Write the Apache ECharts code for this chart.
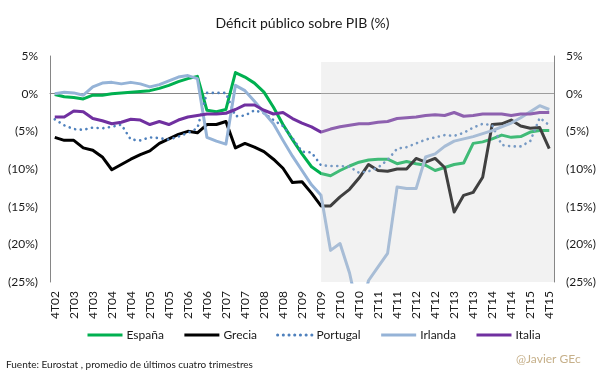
<!DOCTYPE html>
<html><head><meta charset="utf-8">
<script src="https://cdn.jsdelivr.net/npm/echarts@6/dist/echarts.min.js"></script>
<style>html,body{margin:0;padding:0;background:#fff}#c{width:605px;height:378px}</style>
</head><body><div id="c"></div>
<script>
const categories = ['4T02',
 '1T03','2T03','3T03','4T03','1T04','2T04','3T04','4T04',
 '1T05','2T05','3T05','4T05','1T06','2T06','3T06','4T06',
 '1T07','2T07','3T07','4T07','1T08','2T08','3T08','4T08',
 '1T09','2T09','3T09','4T09','1T10','2T10','3T10','4T10',
 '1T11','2T11','3T11','4T11','1T12','2T12','3T12','4T12',
 '1T13','2T13','3T13','4T13','1T14','2T14','3T14','4T14',
 '1T15','2T15','3T15','4T15'];

const espana = [-0.1,-0.4,-0.5,-0.7,-0.2,-0.2,0.0,0.1,0.2,0.3,0.4,0.7,1.1,1.6,2.0,2.3,-2.2,-2.4,-2.1,2.8,2.2,1.4,0.2,-1.8,-4.1,-6.1,-8.0,-9.7,-10.6,-10.9,-10.2,-9.6,-9.1,-8.8,-8.7,-8.7,-9.3,-9.0,-9.3,-9.5,-10.2,-9.8,-9.4,-9.2,-6.6,-6.4,-6.0,-5.5,-5.8,-5.7,-5.1,-4.9,-4.9];
const grecia = [-5.8,-6.2,-6.2,-7.2,-7.5,-8.4,-10.1,-9.4,-8.7,-8.1,-7.6,-6.6,-6.0,-5.4,-5.0,-5.2,-4.1,-4.1,-3.7,-7.2,-6.6,-7.1,-7.7,-8.7,-9.9,-11.8,-11.7,-13.2,-14.9,-14.9,-13.7,-12.7,-11.2,-9.4,-10.2,-10.3,-10.0,-10.0,-8.6,-9.1,-8.6,-9.8,-15.7,-13.5,-13.1,-11.1,-4.1,-4.0,-3.5,-4.3,-4.6,-4.5,-7.3];
const portugal = [-3.4,-4.2,-4.7,-4.8,-4.5,-4.6,-4.4,-4.1,-6.1,-6.2,-5.8,-5.9,-6.1,-5.7,-5.2,-4.6,0.1,0.1,0.1,-3.0,-2.9,-2.2,-2.6,-3.5,-4.3,-5.9,-7.7,-7.8,-9.5,-9.6,-9.6,-9.7,-10.5,-10.3,-9.8,-8.8,-7.3,-7.1,-6.6,-6.1,-5.8,-5.5,-5.6,-5.2,-4.5,-4.0,-4.2,-6.8,-7.0,-7.0,-6.3,-3.2,-4.2];
const irlanda = [0.0,0.2,0.1,-0.2,0.9,1.4,1.5,1.3,1.5,1.3,0.9,1.2,1.7,2.2,2.4,2.0,-5.8,-6.3,-6.7,1.1,0.4,-1.0,-2.5,-4.0,-6.2,-8.3,-10.2,-12.1,-13.5,-20.8,-19.9,-23.8,-29.5,-24.8,-23.0,-21.2,-12.4,-12.6,-12.6,-8.4,-8.0,-7.0,-6.3,-6.0,-5.7,-5.3,-4.9,-4.4,-3.9,-3.2,-2.4,-1.6,-2.1];
const italia = [-3.1,-3.1,-2.3,-2.4,-3.3,-3.6,-4.0,-3.8,-3.4,-3.5,-4.1,-3.7,-4.1,-3.5,-3.1,-2.9,-2.7,-2.7,-2.6,-2.1,-1.5,-1.5,-2.2,-2.7,-2.5,-3.3,-3.9,-4.4,-5.1,-4.7,-4.4,-4.2,-4.0,-4.0,-3.8,-3.7,-3.3,-3.2,-3.1,-2.9,-2.8,-2.9,-2.5,-3.0,-2.9,-2.7,-2.7,-2.7,-2.9,-2.7,-2.7,-2.5,-2.5];

const seriesNames = ['España','Grecia','Portugal','Irlanda','Italia'];
const shadeFrom = '4T09';
const shadeTop = 4.2;
const yMin = -25, yMax = 5, yStep = 5;

const FONT = 'Lato';
const fmt = v => v > 0 ? v + '%' : (v === 0 ? '0%' : '(' + Math.abs(v) + '%)');

const chart = echarts.init(document.getElementById('c'), null, {renderer: 'canvas'});

function lineSeries(name, data, color, extra) {
  return Object.assign({
    name, type: 'line', data, symbol: 'none', smooth: false,
    xAxisIndex: 0, yAxisIndex: 0,
    lineStyle: {color, width: 3, join: 'round'},
    itemStyle: {color},
    emphasis: {disabled: true}
  }, extra || {});
}

const shadeStart = categories.indexOf(shadeFrom) + 0.5;

const yAxisBase = {
  type: 'value', min: yMin, max: yMax, interval: yStep,
  axisLine: {show: true, lineStyle: {color: '#868686', width: 1}},
  axisTick: {show: false},
  splitLine: {show: false},
  axisLabel: {formatter: fmt, fontFamily: FONT, fontSize: 12, color: '#1a1a1a', margin: 12}
};

chart.setOption({
  animation: false,
  backgroundColor: '#ffffff',
  title: [
    {text: 'Déficit público sobre PIB (%)', left: 'center', top: 11,
     textStyle: {fontFamily: FONT, fontSize: 14, fontWeight: 'normal', color: '#1a1a1a'}},
    {text: 'Fuente: Eurostat , promedio de últimos cuatro trimestres', left: 1, top: 355,
     textStyle: {fontFamily: FONT, fontSize: 10, fontWeight: 'normal', color: '#1a1a1a'}},
    {text: '@Javier GEc', left: 511, top: 348,
     textStyle: {fontFamily: FONT, fontSize: 12, fontWeight: 'normal', color: '#c6b08a'}}
  ],
  legend: {
    data: seriesNames, left: 86, top: 329, padding: 0, itemWidth: 35, itemHeight: 14, itemGap: 19,
    itemStyle: {color: 'transparent', borderWidth: 0, opacity: 0},
    lineStyle: {width: 3},
    textStyle: {fontFamily: FONT, fontSize: 12, color: '#1a1a1a', padding: [0, 0, 0, -1]}
  },
  grid: {left: 50, right: 51, top: 56, bottom: 96, containLabel: false},
  xAxis: [
    {type: 'category', data: categories, boundaryGap: true, position: 'bottom',
     axisLine: {show: false}, axisTick: {show: false}, splitLine: {show: false},
     axisLabel: {interval: 1, rotate: 90, fontFamily: FONT, fontSize: 12, color: '#1a1a1a', margin: 9}},
    {type: 'value', min: 0, max: categories.length, position: 'bottom',
     axisLine: {show: true, onZero: true, lineStyle: {color: '#868686', width: 1}},
     axisTick: {show: false}, axisLabel: {show: false}, splitLine: {show: false}}
  ],
  yAxis: [
    Object.assign({position: 'left'}, yAxisBase),
    Object.assign({position: 'right'}, yAxisBase)
  ],
  series: [
    lineSeries('España', espana, '#00b050'),
    lineSeries('Grecia', grecia, '#000000'),
    lineSeries('Portugal', portugal, '#4f81bd', {lineStyle: {color: '#4f81bd', width: 2.6, type: [0.1, 5.6], cap: 'round'}}),
    lineSeries('Irlanda', irlanda, '#95b3d7'),
    lineSeries('Italia', italia, '#7030a0'),
    {
      type: 'custom', xAxisIndex: 1, yAxisIndex: 0, z: 10, silent: true,
      data: [[shadeStart, shadeTop, categories.length, yMin]],
      renderItem: function (params, api) {
        const p0 = api.coord([api.value(0), api.value(1)]);
        const p1 = api.coord([api.value(2), api.value(3)]);
        return {type: 'rect', shape: {x: p0[0], y: p0[1], width: p1[0] - p0[0], height: p1[1] - p0[1]},
                style: {fill: 'rgba(212,212,212,0.3)'}};
      }
    }
  ]
});
</script></body></html>
